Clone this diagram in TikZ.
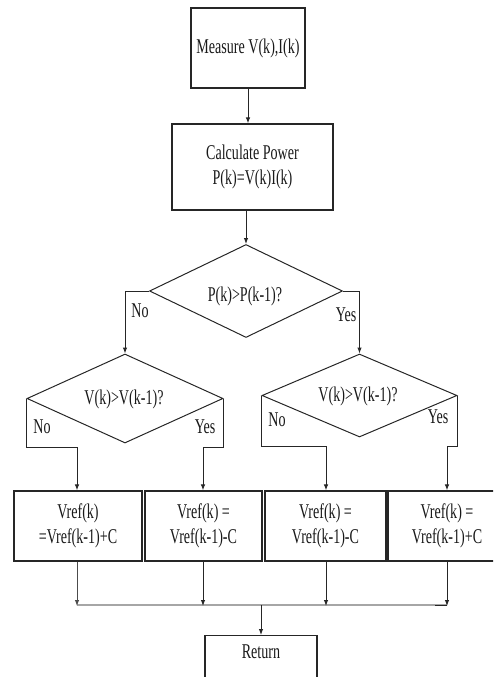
\documentclass[tikz,border=0pt]{standalone}
\usepackage{fontspec}
\setmainfont{Liberation Serif}[FakeStretch=0.67]
\usetikzlibrary{shapes.geometric,arrows.meta}
\begin{document}
\begin{tikzpicture}[x=1pt,y=-1pt,
  every node/.style={font=\fontsize{21}{25}\selectfont, inner sep=0pt, align=center, text=black!90},
  box/.style={draw=black!85, line width=1.1pt, rectangle},
  dec/.style={draw=black!85, line width=1pt, diamond},
  lbl/.style={font=\fontsize{21}{25}\selectfont},
  arr/.style={draw=black!85, line width=1pt, -{Latex[length=6pt,width=4.5pt]}},
  ln/.style={draw=black!85, line width=1pt},
  gl/.style={draw=gray!70, line width=1.4pt}]
\useasboundingbox (0,0) rectangle (493,677);
\clip (0,0) rectangle (493,677);
% boxes
\node[box, minimum width=114, minimum height=80] (m) at (248,48) {Measure V(k),I(k)};
\node[box, minimum width=161, minimum height=86] (c) at (252.5,167) {Calculate Power\\P(k)=V(k)I(k)};
\node[dec, minimum width=193, minimum height=93] (d1) at (246,291) {};
\node (d1t) at (245,296) {P(k)>P(k-1)?};
\node[dec, minimum width=196, minimum height=89] (d2) at (125,398.5) {};
\node (d2t) at (124,399) {V(k)>V(k-1)?};
\node[dec, minimum width=195, minimum height=83] (d3) at (359.5,395.5) {};
\node (d3t) at (358,396) {V(k)>V(k-1)?};
\node[lbl] (n1) at (140,311) {No};
\node[lbl] (y1) at (346,315) {Yes};
\node[lbl] (n2) at (42,427) {No};
\node[lbl] (y2) at (205,427) {Yes};
\node[lbl] (n3) at (277,420) {No};
\node[lbl] (y3) at (438,417) {Yes};
\node[box, minimum width=128, minimum height=70] (a) at (78,526) {Vref(k)\\=Vref(k-1)+C};
\node[box, minimum width=117, minimum height=70] (b) at (203.5,526) {Vref(k) =\\Vref(k-1)-C};
\node[box, minimum width=121, minimum height=70] (cc) at (325.5,526) {Vref(k) =\\Vref(k-1)-C};
\node[box, minimum width=118, minimum height=70] (dd) at (447,526) {Vref(k) =\\Vref(k-1)+C};
\node[box, minimum width=112, minimum height=70, anchor=north] (r) at (261,635) {};
\node (rt) at (261,652) {Return};
% coordinates
\coordinate (j) at (261,605);
\coordinate (ja) at (77,605);
\coordinate (jb) at (203,605);
\coordinate (jc) at (326,605);
\coordinate (jd) at (447,605);
% connectors
\draw[arr] (m.south) -- (m.south |- c.north);
\draw[arr] (c.south -| d1.north) -- (d1.north);
\draw[arr] (d1.west) -| (d2.north);
\draw[arr] (d1.east) -| (d3.north);
\draw[arr] (d2.west) -- ++(0,48.5) -| (a.north -| ja);
\draw[arr] (d2.east) -- ++(0,48.5) -| (b.north -| jb);
\draw[arr] (d3.west) -- ++(0,50.5) -| (cc.north -| jc);
\draw[arr] (d3.east) -- ++(0,50.5) -| (dd.north -| jd);
\draw[gl] (ja) -- (jd);
\draw[arr, draw=gray!60!black] (a.south -| ja) -- ([yshift=-1pt]ja);
\draw[arr] (b.south -| jb) -- ([yshift=-1pt]jb);
\draw[arr] (cc.south -| jc) -- ([yshift=-1pt]jc);
\draw[arr] (dd.south -| jd) -- ([yshift=-1pt]jd);
\draw[ln] ([xshift=-12pt]jd) -- (jd);
\draw[arr] (j) -- (r.north);
\end{tikzpicture}
\end{document}
